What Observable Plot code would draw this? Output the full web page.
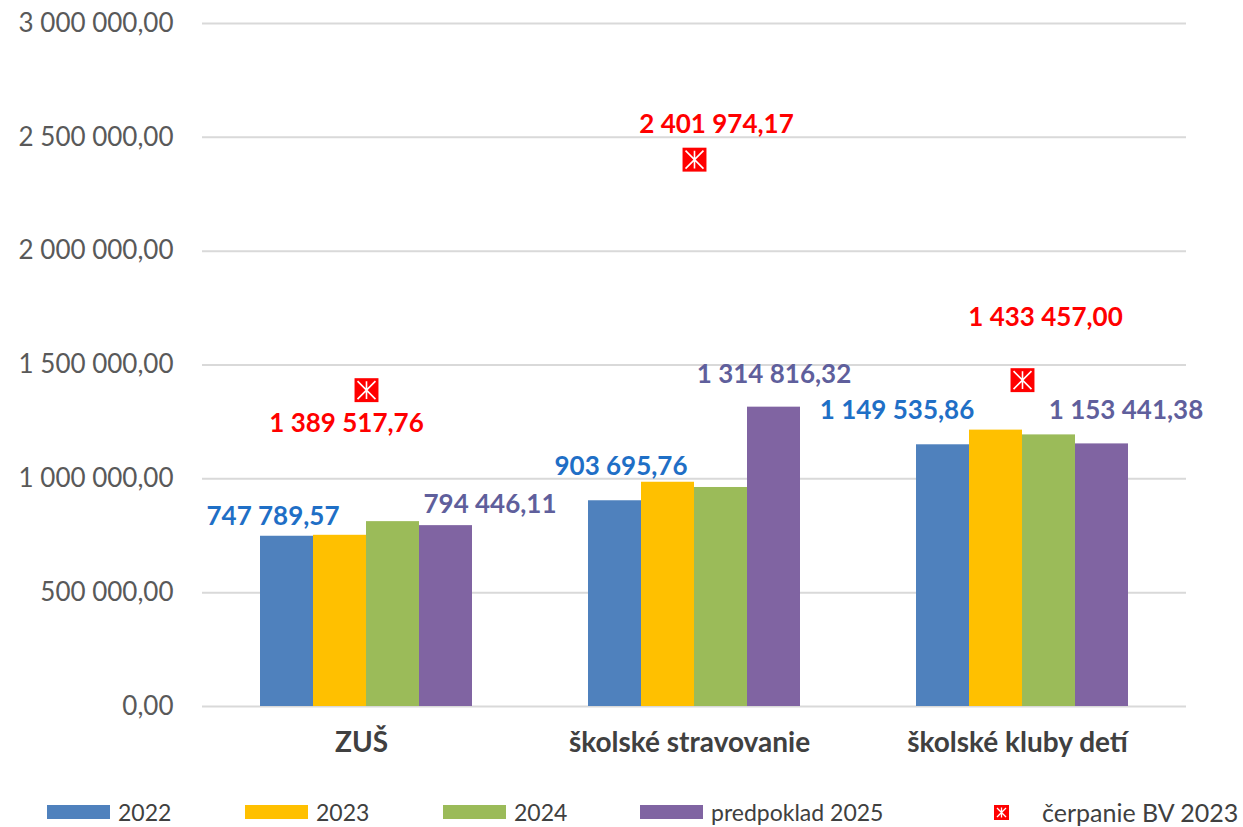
<!DOCTYPE html>
<html>
<head>
<meta charset="utf-8">
<script src="https://cdn.jsdelivr.net/npm/d3@7"></script>
<script src="https://cdn.jsdelivr.net/npm/@observablehq/plot@0.6"></script>
<style>
  html, body { margin: 0; padding: 0; background: white; }
  #wrap { width: 1243px; height: 827px; position: relative; overflow: hidden; font-family: Lato, "Liberation Sans", sans-serif; }
  #legend { position: relative; height: 31px; }
  .item { position: absolute; top: 4px; height: 24px; display: flex; align-items: center; font-size: 23px; color: #404040; white-space: nowrap; }
  .sw { width: 63px; height: 14px; margin-right: 8px; }
</style>
</head>
<body>
<div id="wrap"><div id="chart"></div><div id="legend"></div></div>
<script>
const categories = ["ZUŠ", "školské stravovanie", "školské kluby detí"];
const years = ["2022", "2023", "2024", "predpoklad 2025"];
const v2022 = [747789.57, 903695.76, 1149535.86];
const v2023 = [752000, 985000, 1214000];
const v2024 = [812000, 962000, 1193000];
const v2025 = [794446.11, 1314816.32, 1153441.38];
const cerpanie = [1389517.76, 2401974.17, 1433457.00];
const cerpanieLabel = "čerpanie BV 2023";
const yTicks = [0, 500000, 1000000, 1500000, 2000000, 2500000, 3000000];

const colors = ["#4f81bd", "#ffc000", "#9bbb59", "#8064a2"];
const fmt = v => d3.format(",.2f")(v).replace(/,/g, " ").replace(".", ",");

const series = [v2022, v2023, v2024, v2025];
const rows = categories.flatMap((c, i) => years.map((y, j) => ({cat: c, year: y, value: series[j][i]})));
const markerRows = categories.map((c, i) => ({cat: c, value: cerpanie[i]}));

// label offsets (style only)
const off2022 = [[-14, -20], [6, -34], [-46, -34]];
const off2025 = [[44, -21], [0, -32], [24, -33]];
const offMarker = [[-20, 34], [22, -35], [23, -62]];

const asterisk = {
  draw(ctx, size) {
    const h = Math.sqrt(size) / 2 - 3;
    ctx.moveTo(-h, -h); ctx.lineTo(h, h);
    ctx.moveTo(h, -h); ctx.lineTo(-h, h);
    ctx.moveTo(0, -h); ctx.lineTo(0, h);
  }
};

const labelMarks = [];
categories.forEach((c, i) => {
  labelMarks.push(Plot.text(rows.filter(d => d.cat === c && d.year === years[0]), {
    fx: "cat", x: "year", y: "value", text: d => fmt(d.value),
    dx: off2022[i][0], dy: off2022[i][1], fill: "#1f6fc6", fontSize: 26, fontWeight: "bold"
  }));
  labelMarks.push(Plot.text(rows.filter(d => d.cat === c && d.year === years[3]), {
    fx: "cat", x: "year", y: "value", text: d => fmt(d.value),
    dx: off2025[i][0], dy: off2025[i][1], fill: "#5f5f9c", fontSize: 26, fontWeight: "bold"
  }));
  labelMarks.push(Plot.text([markerRows[i]], {
    fx: "cat", y: "value", text: d => fmt(d.value),
    dx: offMarker[i][0], dy: offMarker[i][1], fill: "#ff0000", fontSize: 26, fontWeight: "bold"
  }));
});

const chart = Plot.plot({
  width: 1243,
  height: 796,
  marginLeft: 202,
  marginRight: 57,
  marginTop: 23,
  marginBottom: 90,
  style: {fontFamily: "Lato, 'Liberation Sans', sans-serif", background: "white"},
  fx: {domain: categories, padding: 0, label: null, axis: null},
  x: {domain: years, paddingInner: 0, paddingOuter: 1.07, axis: null},
  y: {domain: [0, 3000000], label: null, axis: null},
  color: {domain: years, range: colors},
  marks: [
    Plot.gridY(yTicks, {stroke: "#d9d9d9", strokeWidth: 2, strokeOpacity: 1}),
    Plot.barY(rows, {fx: "cat", x: "year", y: "value", fill: "year"}),
    Plot.dot(markerRows, {fx: "cat", y: "value", symbol: "square", r: 13.5, fill: "#ff0000"}),
    Plot.dot(markerRows, {fx: "cat", y: "value", symbol: asterisk, r: 13.5, stroke: "white", strokeWidth: 1.6, fill: "none"}),
    ...labelMarks,
    Plot.axisY(yTicks, {tickFormat: fmt, tickSize: 0, tickPadding: 29, fontSize: 26, fill: "#595959", label: null}),
    Plot.axisFx({anchor: "bottom", tickSize: 0, tickPadding: 26, fontSize: 28, fontWeight: "bold", fill: "#404040", label: null, dx: -5})
  ]
});
document.getElementById("chart").appendChild(chart);

// legend
const legend = document.getElementById("legend");
const lefts = [47, 245, 443, 640];
years.forEach((y, j) => {
  const it = document.createElement("div");
  it.className = "item";
  it.style.left = lefts[j] + "px";
  it.innerHTML = `<div class="sw" style="background:${colors[j]}"></div><span>${y}</span>`;
  legend.appendChild(it);
});
const mk = document.createElement("div");
mk.className = "item";
mk.style.left = "994px";
mk.style.fontSize = "25px";
mk.innerHTML = `<svg width="15" height="15" style="margin-right:33px"><rect x="0" y="0" width="15" height="15" fill="#ff0000"/><path d="M3,3L12,12M12,3L3,12M7.5,2.5L7.5,12.5" stroke="white" stroke-width="1.3"/></svg><span>${cerpanieLabel}</span>`;
legend.appendChild(mk);
</script>
</body>
</html>
